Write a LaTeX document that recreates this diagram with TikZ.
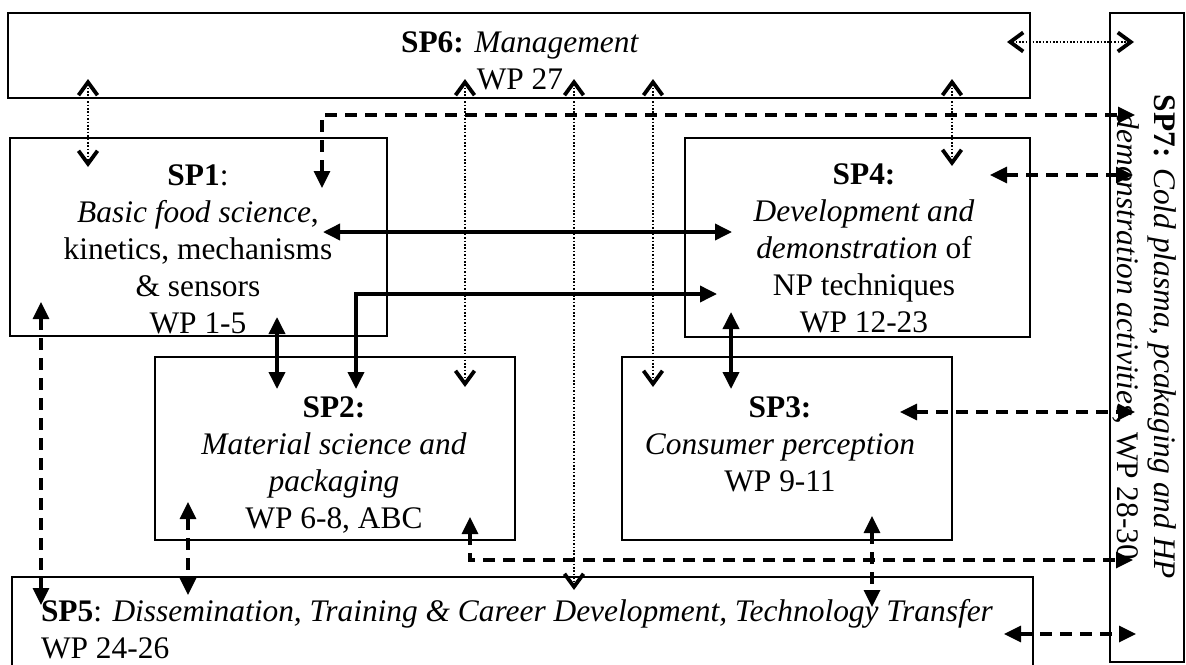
\documentclass[tikz,border=0pt]{standalone}
\usepackage{fontspec}
\setmainfont{Liberation Serif}
\usetikzlibrary{arrows.meta}
\begin{document}
\begin{tikzpicture}[x=1pt,y=-1pt,
  box/.style={draw, line width=2.8pt, outer sep=0pt, inner sep=0pt, anchor=north west},
  txt/.style={inner sep=0pt, outer sep=0pt, align=center, font=\fontsize{31.4}{37}\selectfont},
  dotarrow/.style={line width=2.6pt, line cap=butt, dash pattern=on 1.7pt off 1.7pt,
    {Straight Barb[length=13pt,width=19pt,line width=3.8pt]}-{Straight Barb[length=13pt,width=19pt,line width=3.8pt]}},
  dasharrow/.style={line width=3.3pt, dash pattern=on 12pt off 8pt,
    {Triangle[length=17pt,width=16pt]}-{Triangle[length=17pt,width=16pt]}},
  solidarrow/.style={line width=3.6pt,
    {Triangle[length=17pt,width=16pt]}-{Triangle[length=17pt,width=16pt]}},
]
\useasboundingbox (0,0) rectangle (1186,664);
\clip (0,0) rectangle (1186,664);

% boxes
\node[box, minimum width=1022pt, minimum height=85pt]  (sp6) at (8,13) {};
\node[box, minimum width=74pt,   minimum height=649pt] (sp7) at (1110,13) {};
\node[box, minimum width=377pt,  minimum height=198pt] (sp1) at (10,138) {};
\node[box, minimum width=345pt,  minimum height=199pt] (sp4) at (685,138) {};
\node[box, minimum width=360pt,  minimum height=183pt] (sp2) at (155,357) {};
\node[box, minimum width=330pt,  minimum height=183pt] (sp3) at (622,357) {};
\node[box, minimum width=1021pt, minimum height=150pt] (sp5) at (12,577) {};

% texts
\node[txt] (t6) at (520,63.5) {\strut\textbf{SP6:} \textit{Management}\\WP 27\strut};
\node[txt] (t1) at (198,251.6) {\strut\textbf{SP1}:\\\textit{Basic food science},\\kinetics, mechanisms\\\& sensors\\WP 1-5\strut};
\node[txt] (t4) at (864,250.6) {\strut\textbf{SP4:}\\\textit{Development and}\\\textit{demonstration} of\\NP techniques\\WP 12-23\strut};
\node[txt] (t2) at (334,465.1) {\strut\textbf{SP2:}\\\textit{Material science and}\\\textit{packaging}\\WP 6-8, ABC\strut};
\node[txt] (t3) at (780,446.6) {\strut\textbf{SP3:}\\\textit{Consumer perception}\\WP 9-11\strut};
\node[txt, align=left, anchor=west] (t5) at (41,627.6) {\strut\textbf{SP5}: \textit{Dissemination, Training \& Career Development, Technology Transfer}\\WP 24-26};
\node[txt, rotate=-90] (t7) at (1142.9,337) {\strut\textbf{SP7:} \textit{Cold plasma, pcakaging and HP}\\\textit{demonstration activities}, WP 28-30\strut};

% connector end points
\coordinate (d1a) at (88,79);   \coordinate (d1b) at (88,167);
\coordinate (d2a) at (465,79);  \coordinate (d2b) at (465,387);
\coordinate (d3a) at (574,79);  \coordinate (d3b) at (574,590);
\coordinate (d4a) at (653,79);  \coordinate (d4b) at (653,387);
\coordinate (d5a) at (952,79);  \coordinate (d5b) at (952,166);
\coordinate (d6a) at (1007,42); \coordinate (d6b) at (1134,42);

\coordinate (e1a) at (322,188); \coordinate (e1b) at (1135,115);
\coordinate (e2a) at (990,175); \coordinate (e2b) at (1133,175);
\coordinate (e3a) at (900,412); \coordinate (e3b) at (1135,412);
\coordinate (e4a) at (470,517); \coordinate (e4b) at (1133,560);
\coordinate (e5a) at (872,516); \coordinate (e5b) at (872,607);
\coordinate (e6a) at (1004,634); \coordinate (e6b) at (1136,634);
\coordinate (e7a) at (41,302);  \coordinate (e7b) at (41,605);
\coordinate (e8a) at (188,502); \coordinate (e8b) at (188,595);

\coordinate (s1a) at (323,232); \coordinate (s1b) at (732,232);
\coordinate (s2a) at (356,389); \coordinate (s2b) at (717,294);
\coordinate (s3a) at (277,317); \coordinate (s3b) at (277,389);
\coordinate (s4a) at (731,312); \coordinate (s4b) at (731,389);

% dotted (management) links
\draw[dotarrow] (d1a) -- (d1b);
\draw[dotarrow] (d2a) -- (d2b);
\draw[dotarrow] (d3a) -- (d3b);
\draw[dotarrow] (d4a) -- (d4b);
\draw[dotarrow] (d5a) -- (d5b);
\draw[dotarrow] (d6a) -- (d6b);

% dashed links
\draw[dasharrow] (e1a) |- (e1b);
\draw[dasharrow] (e2a) -- (e2b);
\draw[dasharrow] (e3a) -- (e3b);
\draw[dasharrow] (e4a) |- (e4b);
\draw[dasharrow] (e5a) -- (e5b);
\draw[dasharrow] (e6a) -- (e6b);
\draw[dasharrow] (e7a) -- (e7b);
\draw[dasharrow] (e8a) -- (e8b);

% solid links
\draw[solidarrow] (s1a) -- (s1b);
\draw[solidarrow] (s2a) |- (s2b);
\draw[solidarrow] (s3a) -- (s3b);
\draw[solidarrow] (s4a) -- (s4b);
\end{tikzpicture}
\end{document}
